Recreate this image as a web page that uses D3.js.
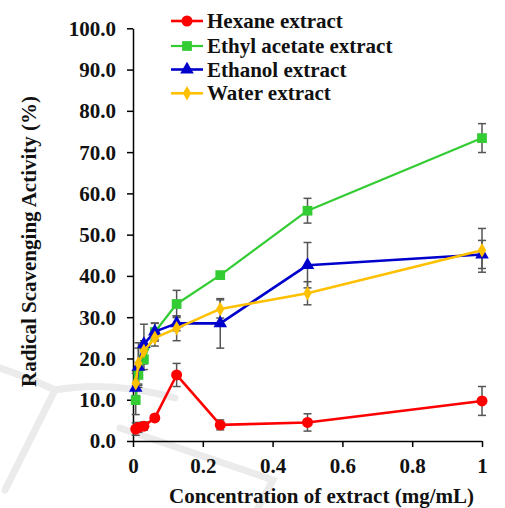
<!DOCTYPE html>
<html><head><meta charset="utf-8">
<script src="https://cdn.jsdelivr.net/npm/d3@7"></script>
<style>body{margin:0;background:#fff}svg{display:block}
svg text{font-family:"Liberation Serif","Times New Roman",serif !important;font-weight:bold;fill:#111}</style>
</head><body>
<svg id="c" width="505" height="508"></svg>
<script>
const concentrations = [0.0078, 0.0156, 0.03125, 0.0625, 0.125, 0.25, 0.5, 1];
const seriesNames = ["Hexane extract", "Ethyl acetate extract", "Ethanol extract", "Water extract"];
const hexane = [2.9, 3.3, 3.6, 5.6, 16.0, 3.9, 4.5, 9.7];
const ethylAcetate = [9.9, 16.0, 19.8, 26.4, 33.2, 40.2, 55.8, 73.4];
const ethanol = [12.9, 18.0, 23.5, 26.5, 28.5, 28.5, 42.6, 45.2];
const water = [14.0, 18.8, 21.8, 25.0, 27.3, 32.0, 35.8, 46.2];
const hexaneErr = [1.5, 1.2, 1.0, 0.8, 2.8, 1.2, 2.1, 3.5];
const ethylAcetateErr = [3.5, 3.0, 2.5, 2.2, 3.3, 0.8, 3.0, 3.5];
const ethanolErr = [3.5, 4.5, 4.8, 2.0, 1.8, 6.0, 5.5, 3.4];
const waterErr = [3.0, 5.0, 2.5, 2.0, 3.0, 2.2, 2.8, 5.3];
const yTicks = [0, 10, 20, 30, 40, 50, 60, 70, 80, 90, 100];
const xTicks = [0, 0.2, 0.4, 0.6, 0.8, 1];

const colors = ["#ff0000", "#33cc33", "#0000cc", "#ffc000"];
const shapes = [d3.symbolCircle, d3.symbolSquare, d3.symbolTriangle, d3.symbolDiamond];
const sizes = [95, 95, 80, 60];
const widths = [2.6, 2.2, 2.6, 2.6];
const values = [hexane, ethylAcetate, ethanol, water];
const errs = [hexaneErr, ethylAcetateErr, ethanolErr, waterErr];

const svg = d3.select("#c");
const x = d3.scaleLinear().domain([0, 1]).range([133, 482]);
const y = d3.scaleLinear().domain([0, 100]).range([441, 28.3]);

// faint background watermark strokes
const wm = svg.append("g").attr("fill", "none").attr("stroke", "#ebebeb").attr("stroke-width", 7).attr("stroke-linecap", "round");
wm.append("path").attr("d", "M0,368 Q30,378 55,390 Q110,380 175,398");
wm.append("path").attr("d", "M55,390 Q30,440 5,490");
wm.append("path").attr("d", "M120,428 Q200,455 273,480 L258,508");

// axes
const gx = svg.append("g").attr("transform", "translate(0,441)")
  .call(d3.axisBottom(x).tickValues(xTicks).tickFormat(d => d === 0 ? "0" : (d === 1 ? "1" : d3.format(".1f")(d))).tickSize(6).tickSizeOuter(0));
const gy = svg.append("g").attr("transform", "translate(133,0)")
  .call(d3.axisLeft(y).tickValues(yTicks).tickFormat(d3.format(".1f")).tickSize(6).tickSizeOuter(0));
[gx, gy].forEach(g => {
  g.attr("font-family", null);
  g.selectAll("path.domain").attr("stroke", "#000").attr("stroke-width", 1.5);
  g.selectAll(".tick line").attr("stroke", "#000").attr("stroke-width", 1.5);
  g.selectAll("text").attr("font-size", 21).attr("fill", "#111");
});
gx.selectAll("text").attr("dy", "0.71em").attr("y", 17);
gy.selectAll("text").attr("x", -17).attr("dy", "0.33em");

// error bars
values.forEach((vals, s) => {
  const g = svg.append("g").attr("stroke", "#555").attr("stroke-width", 1.5);
  vals.forEach((v, i) => {
    const cx = x(concentrations[i]);
    const top = y(v + errs[s][i]), bot = y(Math.max(0, v - errs[s][i]));
    g.append("line").attr("x1", cx).attr("x2", cx).attr("y1", top).attr("y2", bot);
    g.append("line").attr("x1", cx - 4).attr("x2", cx + 4).attr("y1", top).attr("y2", top);
    g.append("line").attr("x1", cx - 4).attr("x2", cx + 4).attr("y1", bot).attr("y2", bot);
  });
});

// lines and markers
const line = d3.line().x((d, i) => x(concentrations[i])).y(d => y(d));
[1, 2, 3, 0].forEach(s => {
  svg.append("path").datum(values[s]).attr("d", line).attr("fill", "none")
    .attr("stroke", colors[s]).attr("stroke-width", widths[s]).attr("stroke-linejoin", "round");
  svg.append("g").selectAll("path").data(values[s]).join("path")
    .attr("transform", (d, i) => `translate(${x(concentrations[i])},${y(d)})`)
    .attr("d", d3.symbol().type(shapes[s]).size(sizes[s]))
    .attr("fill", colors[s]);
});

// legend
const legY = [21, 46, 69.5, 93.3];
seriesNames.forEach((n, s) => {
  const g = svg.append("g").attr("transform", `translate(0,${legY[s]})`);
  g.append("line").attr("x1", 171).attr("x2", 203).attr("stroke", colors[s]).attr("stroke-width", widths[s]);
  g.append("path").attr("transform", "translate(187,0)").attr("d", d3.symbol().type(shapes[s]).size(sizes[s])).attr("fill", colors[s]);
  g.append("text").attr("x", 207).attr("y", 7).attr("font-size", 21).text(n);
});

// axis titles
svg.append("text").attr("x", 321.5).attr("y", 503).attr("text-anchor", "middle").attr("font-size", 21)
  .text("Concentration of extract (mg/mL)");
svg.append("text").attr("transform", "translate(36,241.5) rotate(-90)").attr("text-anchor", "middle").attr("font-size", 21)
  .text("Radical Scavenging Activity (%)");
</script>
</body></html>
